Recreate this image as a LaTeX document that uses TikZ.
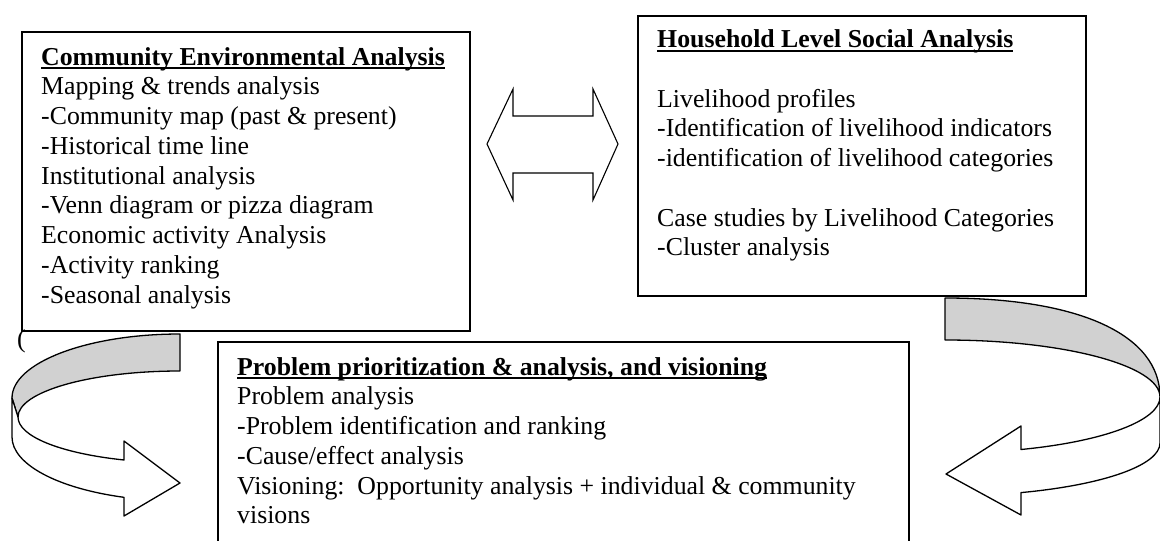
\documentclass[tikz,border=0pt]{standalone}
\usepackage{fontspec}
\setmainfont{Liberation Serif}
% bold heading with a flat rule drawn through the descenders
\newcommand\headline[1]{\setbox0\hbox{\bfseries #1}\rlap{\rule[-4.3pt]{\wd0}{1.9pt}}\box0}
\begin{document}
\begin{tikzpicture}[x=1pt,y=-1pt,
  panel/.style={draw=black, line width=1.6pt, inner sep=0pt, anchor=north west},
  txt/.style={anchor=base west, inner sep=0pt, font=\fontsize{25.8}{29.75}\selectfont},
  band/.style={draw=black, line width=1.3pt, line join=round},
  backface/.style={band, fill=black!18},
  frontface/.style={band, fill=white}]

\useasboundingbox (0,0) rectangle (1160,541);
\clip (0,0) rectangle (1160,541);

% ---- panels
\node[panel, minimum width=448pt, minimum height=299pt] (cea) at (21,31) {};
\node[panel, minimum width=448pt, minimum height=280pt] (hls) at (637,15) {};
\node[panel, minimum width=691pt, minimum height=230pt] (ppa) at (217,341) {};

% ---- Community Environmental Analysis
\node[txt] (cea0) at (41,65) {\headline{Community Environmental Analysis}};
\foreach \t [count=\i] in {
  Mapping \& trends analysis,
  -Community map (past \& present),
  -Historical time line,
  Institutional analysis,
  -Venn diagram or pizza diagram,
  Economic activity Analysis,
  -Activity ranking,
  -Seasonal analysis}
  \node[txt] (cea\i) at (41,{65+29.75*\i}) {\t};

% ---- Household Level Social Analysis
\node[txt] (hls0) at (657,47.5) {\headline{Household Level Social Analysis}};
\node[txt] (hls2) at (657,{47.5+29.75*2}) {Livelihood profiles};
\node[txt] (hls3) at (657,{47.5+29.75*3}) {-Identification of livelihood indicators};
\node[txt] (hls4) at (657,{47.5+29.75*4}) {-identification of livelihood categories};
\node[txt] (hls6) at (657,{47.5+29.75*6}) {Case studies by Livelihood Categories};
\node[txt] (hls7) at (657,{47.5+29.75*7}) {-Cluster analysis};

% ---- Problem prioritization
\node[txt] (ppa0) at (237,375) {\headline{Problem prioritization \& analysis, and visioning}};
\foreach \t [count=\i] in {
  Problem analysis,
  -Problem identification and ranking,
  -Cause/effect analysis,
  {Visioning:\ \ Opportunity analysis + individual \& community},
  visions}
  \node[txt] (ppa\i) at (237,{375+29.75*\i}) {\t};

% stray bracket below the first panel
\node[txt] (paren) at (17,347) {(};

% ---- two-headed arrow between the upper panels
\draw[line width=1.1pt, line join=miter] (487,144) -- (513,89) -- (513,116) -- (593,116)
  -- (593,89) -- (618,144) -- (593,200) -- (593,173) -- (513,173) -- (513,200) -- cycle;

% ---- left curved arrow: back face
\draw[backface] (180,334) .. controls (87.2,334) and (12,362.7) .. (12,398)
  -- (18,417) .. controls (18,391.6) and (90.5,371) .. (180,371) -- cycle;
% ---- left curved arrow: front face with head
\draw[frontface] (12,398) -- (12,437)
  .. controls (12,464) and (57,488.3) .. (124,497.3)
  -- (124,516) -- (180,483) -- (124,441) -- (124,460)
  .. controls (60.3,453.3) and (18,436.3) .. (18,417) -- cycle;

% ---- right curved arrow: back face
\draw[backface] (945,298) .. controls (1080,298) and (1160,335) .. (1160,397)
  .. controls (1160,365.5) and (1063.7,340) .. (945,340) -- cycle;
% ---- right curved arrow: front face with head
\draw[frontface] (1160,397) -- (1160,443)
  .. controls (1160,465) and (1104.5,484.8) .. (1021,492.6)
  -- (1021,515) -- (946,474) -- (1021,426) -- (1021,449.5)
  .. controls (1104.2,441.4) and (1160,420.4) .. (1160,397) -- cycle;

\end{tikzpicture}
\end{document}
